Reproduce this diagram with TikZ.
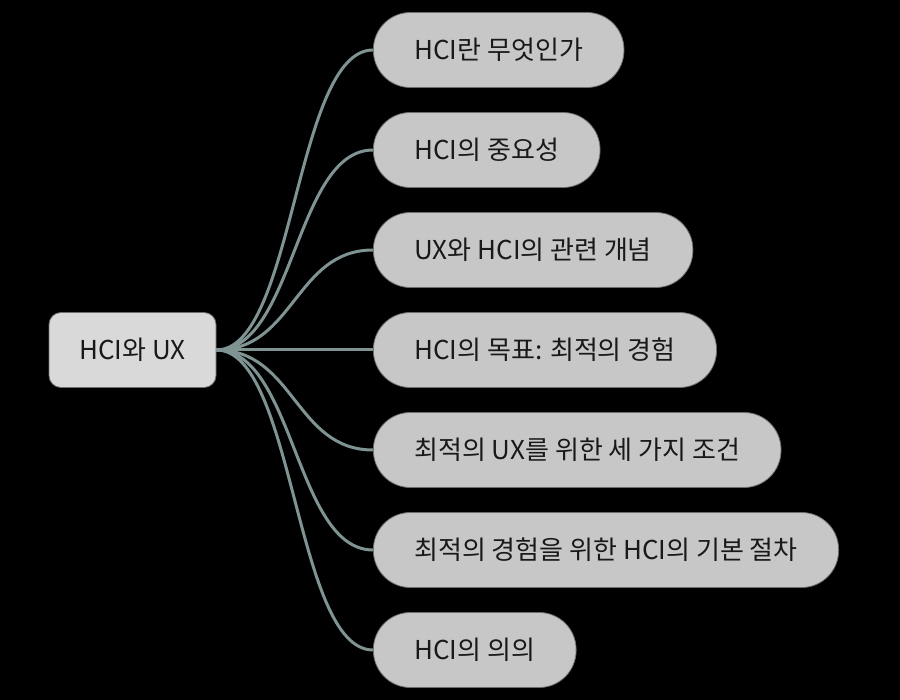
\documentclass[tikz,border=0pt]{standalone}
\usepackage{fontspec}
\newfontfamily\krfont{Noto Sans CJK KR}
\usepackage{tikz}
\usetikzlibrary{calc}

\definecolor{linkgrey}{RGB}{127,147,147}
\definecolor{rootfill}{RGB}{217,217,217}
\definecolor{topicfill}{RGB}{199,199,199}
\definecolor{edgegrey}{RGB}{110,110,110}

\begin{document}
\begin{tikzpicture}[x=1pt,y=-1pt,
  rootbox/.style={draw=edgegrey,line width=0.8pt,fill=rootfill,rounded corners=12pt,minimum width=167pt,minimum height=75pt,font=\krfont\fontsize{26}{30}\selectfont,text=black!90,inner sep=0pt},
  topicbox/.style={draw=edgegrey,line width=0.8pt,fill=topicfill,rounded corners=37pt,minimum height=75pt,inner xsep=41pt,inner ysep=0pt,anchor=west,font=\krfont\fontsize{26}{30}\selectfont,text=black!90},
  branch/.style={draw=linkgrey,line width=3pt,to path={.. controls ($(\tikztostart)+(78,0)$) and ($(\tikztotarget)-(78,0)$) .. (\tikztotarget)}}]
\fill[black] (0,0) rectangle (900,700);
\useasboundingbox (0,0) rectangle (900,700);

% root and topics
\node[rootbox] (root) at (132.5,350) {HCI와 UX};
\node[topicbox] (t_what) at (373,50) {HCI란 무엇인가};
\node[topicbox] (t_why) at (373,150) {HCI의 중요성};
\node[topicbox] (t_ux) at (373,250) {UX와 HCI의 관련 개념};
\node[topicbox] (t_goal) at (373,350) {HCI의 목표: 최적의 경험};
\node[topicbox] (t_cond) at (373,450) {최적의 UX를 위한 세 가지 조건};
\node[topicbox] (t_proc) at (373,550) {최적의 경험을 위한 HCI의 기본 절차};
\node[topicbox] (t_mean) at (373,650) {HCI의 의의};

% branches
\draw[branch] (root.east) to (t_what.west);
\draw[branch] (root.east) to (t_why.west);
\draw[branch] (root.east) to (t_ux.west);
\draw[branch] (root.east) to (t_goal.west);
\draw[branch] (root.east) to (t_cond.west);
\draw[branch] (root.east) to (t_proc.west);
\draw[branch] (root.east) to (t_mean.west);
\end{tikzpicture}
\end{document}
